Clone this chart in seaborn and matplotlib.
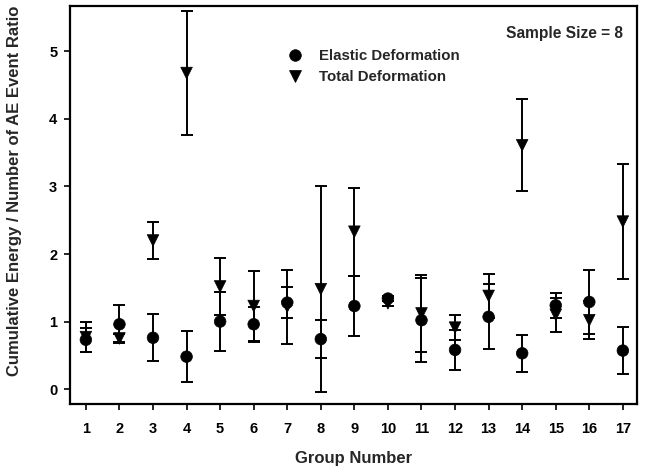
import numpy as np
import pandas as pd
import matplotlib
matplotlib.use("Agg")
import matplotlib.pyplot as plt
import seaborn as sns

groups = list(range(1, 18))
elastic_mean = [0.73, 0.96, 0.76, 0.48, 1.00, 0.96, 1.28, 0.74, 1.23, 1.34, 1.02, 0.58, 1.07, 0.53, 1.24, 1.29, 0.57]
elastic_err = [0.18, 0.28, 0.35, 0.38, 0.44, 0.26, 0.23, 0.28, 0.45, 0.04, 0.62, 0.30, 0.48, 0.27, 0.19, 0.48, 0.35]
total_mean = [0.77, 0.75, 2.20, 4.68, 1.52, 1.23, 1.22, 1.48, 2.33, 1.27, 1.12, 0.91, 1.38, 3.61, 1.10, 1.02, 2.48]
total_err = [0.22, 0.06, 0.28, 0.92, 0.42, 0.52, 0.55, 1.53, 0.65, 0.04, 0.57, 0.18, 0.33, 0.68, 0.25, 0.28, 0.85]

sns.set_theme(style="ticks")
plt.rcParams['font.family'] = ['Liberation Sans', 'DejaVu Sans']
plt.rcParams['font.weight'] = 'bold'

df = pd.DataFrame({
    'group': groups * 2,
    'value': elastic_mean + total_mean,
    'err': elastic_err + total_err,
    'kind': ['Elastic Deformation'] * 17 + ['Total Deformation'] * 17,
})

fig = plt.figure(figsize=(6.46, 4.73), dpi=100)
ax = fig.add_axes([0.108, 0.146, 0.878, 0.841])

# error bars first, markers on top
for kind, sub in df.groupby('kind'):
    ax.errorbar(sub['group'], sub['value'], yerr=sub['err'], fmt='none',
                ecolor='black', elinewidth=1.4, capsize=4.3, capthick=1.4, zorder=2)

sns.scatterplot(data=df, x='group', y='value', style='kind',
                markers={'Elastic Deformation': 'o', 'Total Deformation': 'v'},
                color='black', s=70, edgecolor='black', linewidth=0.5,
                ax=ax, zorder=3, legend=True)

ax.set_xlim(0.52, 17.42)
ax.set_ylim(-0.22, 5.67)
ax.set_xticks(groups)
ax.set_yticks([0, 1, 2, 3, 4, 5])
ax.tick_params(axis='both', direction='out', length=4, width=1.2, labelsize=10.5, colors='black')
ax.tick_params(axis='x', pad=9)
ax.tick_params(axis='y', pad=5)
for lab in ax.get_xticklabels() + ax.get_yticklabels():
    lab.set_fontweight('bold')

for sp in ax.spines.values():
    sp.set_visible(True)
    sp.set_linewidth(1.6)
    sp.set_color('black')

ax.set_xlabel('Group Number', fontsize=12, fontweight='bold', labelpad=11)
ax.set_ylabel('Cumulative Energy / Number of AE Event Ratio', fontsize=12, fontweight='bold')
ax.yaxis.set_label_coords(-0.085, 0.535)

leg = ax.legend(loc='upper left', bbox_to_anchor=(0.346, 0.925), frameon=False,
                fontsize=10.8, handletextpad=0.6, labelspacing=0.45, markerscale=1.0)
for t in leg.get_texts():
    t.set_fontweight('bold')

ax.text(0.975, 0.932, 'Sample Size = 8', transform=ax.transAxes, ha='right', va='center',
        fontsize=11.2, fontweight='bold')

fig.savefig('out.png', dpi=100)
